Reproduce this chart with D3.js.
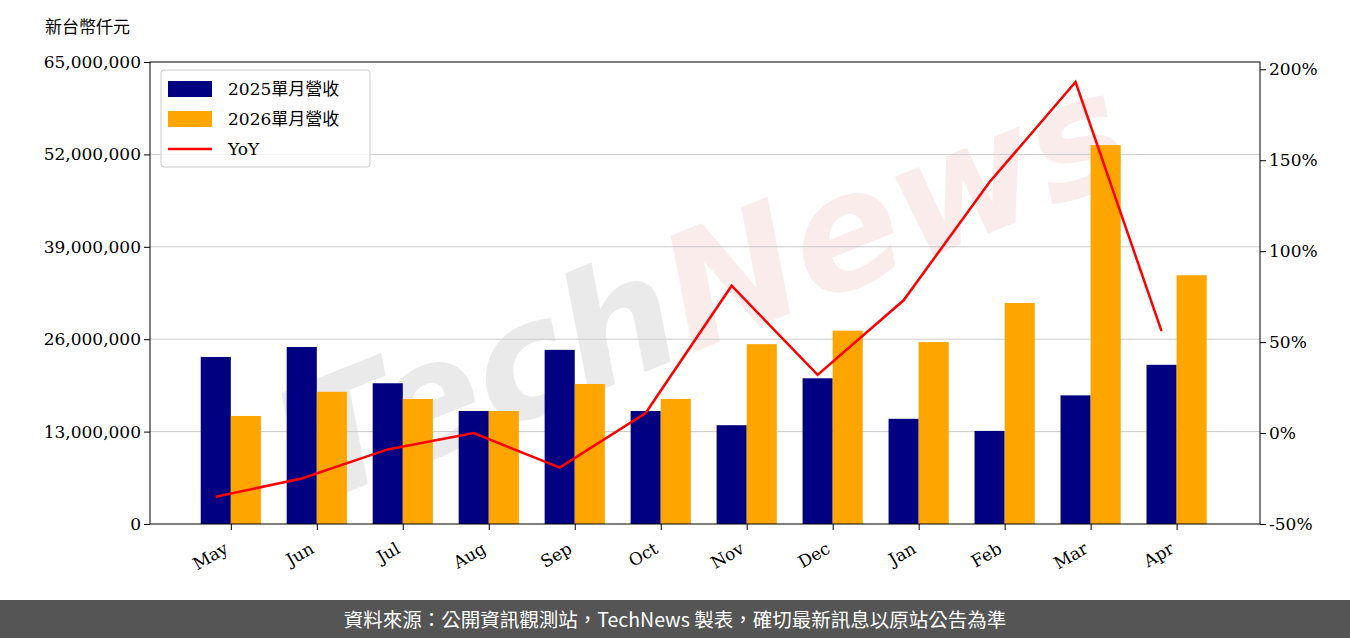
<!DOCTYPE html>
<html><head><meta charset="utf-8">
<script src="https://cdn.jsdelivr.net/npm/d3@7"></script>
<style>body{margin:0;background:#fff}</style></head>
<body><svg id="c" width="1350" height="638"></svg>
<script>
const months=["May","Jun","Jul","Aug","Sep","Oct","Nov","Dec","Jan","Feb","Mar","Apr"];
const rev2025=[23.5,24.9,19.8,15.9,24.5,15.9,13.9,20.5,14.8,13.1,18.1,22.4].map(v=>v*1e6);
const rev2026=[15.2,18.6,17.6,15.9,19.7,17.6,25.3,27.2,25.6,31.1,53.3,35.0].map(v=>v*1e6);
const yoy=[-35,-25,-9,0,-19,11,81,32,73,138,193,56];
const leftTicks=[0,13e6,26e6,39e6,52e6,65e6];
const rightTicks=[-50,0,50,100,150,200];

const svg=d3.select("#c");
const L=150,R=1260,T=62,B=524;
const x=d3.scaleLinear().domain([-0.94,11.97]).range([L,R]);
const y=d3.scaleLinear().domain([0,65e6]).range([B,T]);
const y2=d3.scaleLinear().domain([-50,204]).range([B,T]);
const serif="DejaVu Serif, serif", cjk="'Noto Sans CJK TC', sans-serif";

const wm=svg.append("g").attr("transform","translate(690,300) rotate(-22)");
wm.append("text").attr("x",-20).attr("y",50).attr("text-anchor","end").attr("font-size",160).attr("font-style","italic").attr("font-weight","bold")
 .attr("font-family","DejaVu Sans").attr("fill","#000").attr("opacity",0.08).text("Tech");
wm.append("text").attr("x",-20).attr("y",50).attr("font-size",160).attr("font-style","italic").attr("font-weight","bold")
 .attr("font-family","DejaVu Sans").attr("fill","#e05050").attr("opacity",0.1).text("News");

svg.append("g").selectAll("line").data(leftTicks.slice(1,-1)).join("line")
 .attr("x1",L).attr("x2",R).attr("y1",d=>y(d)).attr("y2",d=>y(d)).attr("stroke","#ccc").attr("stroke-width",1);

const bw=x(0.35)-x(0);
svg.append("g").selectAll("rect").data(rev2025).join("rect")
 .attr("x",(d,i)=>x(i)-bw).attr("width",bw).attr("y",d=>y(d)).attr("height",d=>B-y(d)).attr("fill","#000080");
svg.append("g").selectAll("rect").data(rev2026).join("rect")
 .attr("x",(d,i)=>x(i)).attr("width",bw).attr("y",d=>y(d)).attr("height",d=>B-y(d)).attr("fill","#ffa500");

svg.append("path").datum(yoy).attr("fill","none").attr("stroke","#ff0000").attr("stroke-width",2.5)
 .attr("d",d3.line().x((d,i)=>x(i)-bw/2).y(d=>y2(d)));

svg.append("rect").attr("x",L).attr("y",T).attr("width",R-L).attr("height",B-T).attr("fill","none").attr("stroke","#000");

const ax=svg.append("g").attr("transform",`translate(${L},0)`)
 .call(d3.axisLeft(y).tickValues(leftTicks).tickFormat(d3.format(",")).tickSizeOuter(0));
ax.select(".domain").remove();
ax.selectAll("text").attr("font-family",serif).attr("font-size",17).attr("fill","#000");
const ax2=svg.append("g").attr("transform",`translate(${R},0)`)
 .call(d3.axisRight(y2).tickValues(rightTicks).tickFormat(d=>d+"%").tickSizeOuter(0));
ax2.select(".domain").remove();
ax2.selectAll("text").attr("font-family",serif).attr("font-size",17).attr("fill","#000");
const ax3=svg.append("g").attr("transform",`translate(0,${B})`)
 .call(d3.axisBottom(x).tickValues(d3.range(12)).tickFormat(i=>months[i]).tickSizeOuter(0));
ax3.select(".domain").remove();
ax3.selectAll("text").attr("font-family",serif).attr("font-size",17).attr("fill","#000")
 .attr("text-anchor","end").attr("y",0).attr("dy",0).attr("transform","translate(-2,28) rotate(-30)");

svg.append("text").attr("x",45).attr("y",33).attr("font-family",cjk).attr("font-size",17).text("新台幣仟元");

const lg=svg.append("g");
lg.append("rect").attr("x",161).attr("y",70).attr("width",209).attr("height",97).attr("rx",3)
 .attr("fill","#fff").attr("fill-opacity",0.8).attr("stroke","#ccc");
const items=[["2025單月營收","#000080","bar"],["2026單月營收","#ffa500","bar"],["YoY","#ff0000","line"]];
items.forEach((it,i)=>{
 const cy=89+i*30;
 if(it[2]=="bar") lg.append("rect").attr("x",168).attr("y",cy-8).attr("width",44).attr("height",16).attr("fill",it[1]);
 else lg.append("line").attr("x1",168).attr("x2",212).attr("y1",cy).attr("y2",cy).attr("stroke",it[1]).attr("stroke-width",2.5);
 lg.append("text").attr("x",228).attr("y",cy+6).attr("font-family",serif+","+cjk).attr("font-size",17).text(it[0]);
});

svg.append("rect").attr("x",0).attr("y",600).attr("width",1350).attr("height",38).attr("fill","#555");
svg.append("text").attr("x",675).attr("y",627).attr("text-anchor","middle").attr("fill","#fff")
 .attr("font-family",cjk).attr("font-size",19.5).text("資料來源：公開資訊觀測站，TechNews 製表，確切最新訊息以原站公告為準");
</script></body></html>
